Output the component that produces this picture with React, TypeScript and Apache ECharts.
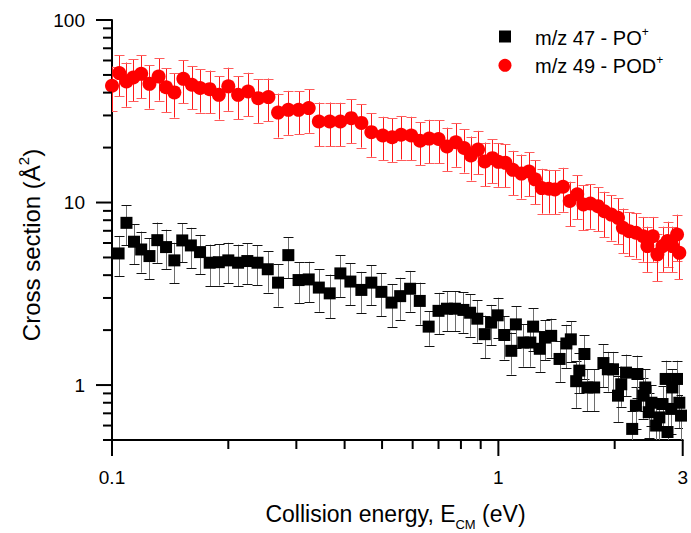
import React, { useEffect, useRef } from "react";
import * as echarts from "echarts";

// ---- data: m/z 49 - POD+ (red circles) ----
const podEnergy = [
  0.100, 0.1044, 0.109, 0.1135, 0.119, 0.125, 0.132, 0.138, 0.145, 0.153,
  0.161, 0.169, 0.179, 0.189, 0.200, 0.212, 0.225, 0.239, 0.254, 0.269,
  0.286, 0.304, 0.323, 0.343, 0.366, 0.390, 0.416, 0.442, 0.469, 0.502,
  0.531, 0.560, 0.595, 0.627, 0.662, 0.700, 0.736, 0.776, 0.815, 0.849,
  0.886, 0.922, 0.965, 1.00, 1.043, 1.09, 1.147, 1.20, 1.244, 1.295,
  1.35, 1.40, 1.47, 1.53, 1.60, 1.66, 1.73, 1.81, 1.88, 1.96,
  2.04, 2.10, 2.18, 2.27, 2.37, 2.43, 2.51, 2.58, 2.66, 2.74,
  2.82, 2.90, 2.94,
];
const podSigma = [
  43.6, 51.2, 46.0, 48.4, 50.7, 44.7, 49.0, 42.8, 40.1, 47.6,
  44.2, 42.4, 41.8, 38.9, 43.3, 38.9, 40.6, 37.3, 37.8, 31.1,
  32.2, 32.2, 32.9, 27.8, 27.8, 27.8, 29.0, 27.3, 24.3, 23.3,
  22.8, 23.5, 23.3, 21.8, 22.4, 22.3, 20.3, 21.4, 19.9, 18.1,
  19.5, 16.8, 17.5, 16.7, 16.5, 15.1, 14.4, 14.8, 13.4, 12.0,
  11.9, 11.8, 12.2, 10.2, 11.1, 9.75, 9.88, 9.55, 8.96, 8.59,
  8.24, 7.27, 6.97, 6.83, 6.54, 5.77, 6.54, 5.2, 5.77, 6.15,
  5.77, 6.68, 5.3,
];
const podError = [
  12, 13, 12.5, 12.6, 13.3, 12, 12.8, 11.5, 10.9, 12.5,
  11.8, 11.3, 11, 10.4, 11.5, 10.3, 10.8, 10, 10, 8.4,
  8.7, 8.6, 8.8, 7.5, 7.5, 7.4, 7.8, 7.3, 6.5, 6.2,
  6.1, 6.3, 6.2, 5.8, 6.0, 5.9, 5.4, 5.7, 5.3, 4.9,
  5.2, 4.5, 4.7, 4.5, 4.4, 4.1, 3.9, 4.0, 3.6, 3.3,
  3.2, 3.2, 3.3, 2.8, 3.0, 2.7, 2.7, 2.6, 2.5, 2.4,
  2.3, 2.0, 1.9, 1.9, 1.8, 1.6, 1.8, 1.5, 1.6, 1.7,
  1.6, 1.9, 1.5,
];

// ---- data: m/z 47 - PO+ (black squares) ----
const poEnergy = [
  0.104, 0.109, 0.114, 0.119, 0.125, 0.131, 0.138, 0.145, 0.152, 0.160,
  0.169, 0.179, 0.189, 0.200, 0.212, 0.224, 0.238, 0.253, 0.269, 0.286,
  0.304, 0.323, 0.343, 0.366, 0.390, 0.414, 0.442, 0.469, 0.498, 0.529,
  0.557, 0.591, 0.626, 0.660, 0.700, 0.736, 0.772, 0.812, 0.845, 0.882,
  0.922, 0.958, 0.996, 1.036, 1.08, 1.11, 1.16, 1.21, 1.23, 1.28,
  1.32, 1.37, 1.44, 1.50, 1.54, 1.59, 1.62, 1.67, 1.70, 1.77,
  1.87, 1.92, 1.98, 2.04, 2.08, 2.14, 2.22, 2.27, 2.29, 2.37,
  2.40, 2.45, 2.49, 2.56, 2.61, 2.66, 2.71, 2.74, 2.80, 2.82,
  2.90, 2.94, 2.97,
];
const poSigma = [
  5.26, 7.74, 6.10, 5.53, 5.09, 6.22, 5.70, 4.82, 6.20, 5.82,
  5.35, 4.68, 4.71, 4.82, 4.68, 4.78, 4.68, 4.31, 3.64, 5.15,
  3.76, 3.79, 3.42, 3.18, 4.09, 3.69, 3.32, 3.64, 3.24, 2.83,
  3.07, 3.37, 2.89, 2.09, 2.55, 2.62, 2.62, 2.58, 2.49, 2.31,
  1.90, 2.20, 2.41, 1.88, 1.54, 2.15, 1.71, 1.71, 2.09, 1.58,
  1.82, 1.86, 1.39, 1.69, 1.78, 1.05, 1.20, 1.48, 0.97, 0.97,
  1.32, 1.22, 1.22, 0.875, 1.01, 1.17, 0.575, 0.771, 1.15, 0.875,
  0.97, 0.71, 0.80, 0.60, 0.665, 0.787, 1.08, 0.553, 0.74, 0.97,
  1.08, 0.80, 0.68,
];
const poError = [
  1.3, 1.9, 1.5, 1.4, 1.3, 1.55, 1.4, 1.2, 1.5, 1.45,
  1.3, 1.2, 1.2, 1.2, 1.2, 1.2, 1.15, 1.1, 0.95, 1.3,
  0.95, 0.95, 0.9, 0.85, 1.05, 0.95, 0.85, 0.9, 0.85, 0.75,
  0.8, 0.85, 0.75, 0.45, 0.65, 0.65, 0.65, 0.65, 0.65, 0.6,
  0.5, 0.55, 0.6, 0.5, 0.4, 0.55, 0.45, 0.45, 0.55, 0.4,
  0.45, 0.45, 0.35, 0.45, 0.45, 0.3, 0.3, 0.4, 0.25, 0.25,
  0.35, 0.3, 0.3, 0.25, 0.25, 0.3, 0.15, 0.2, 0.3, 0.22,
  0.25, 0.2, 0.2, 0.16, 0.18, 0.2, 0.28, 0.15, 0.2, 0.25,
  0.28, 0.22, 0.2,
];

// ---- axes ----
const xRange = [0.1, 3];
const yRange = [0.5, 100];
const xMajorTicks = [0.1, 1, 3];
const xMinorTicks = [0.2, 0.3, 0.4, 0.5, 0.6, 0.7, 0.8, 0.9, 2];
const yMajorTicks = [1, 10, 100];
const yMinorTicks = [0.5, 0.6, 0.7, 0.8, 0.9, 2, 3, 4, 5, 6, 7, 8, 9, 20, 30, 40, 50, 60, 70, 80, 90];

const FONT = "'Liberation Sans', Arial, sans-serif";

function errorBarSeries(name: string, e: number[], s: number[], err: number[], lineColor: string, capColor: string) {
  return {
    name: name + " err",
    type: "custom",
    z: 1,
    clip: true,
    silent: true,
    data: e.map((v, i) => [v, s[i], err[i]]),
    encode: { x: 0, y: 1 },
    renderItem: (params: any, api: any) => {
      const x = api.value(0);
      const y = api.value(1);
      const d = api.value(2);
      const hi = api.coord([x, y + d]);
      const lo = api.coord([x, Math.max(y - d, 1e-6)]);
      const cx = Math.round(hi[0]) + 0.5;
      const w = 5;
      return {
        type: "group",
        children: [
          { type: "line", shape: { x1: cx, y1: hi[1], x2: cx, y2: lo[1] }, style: { stroke: lineColor, lineWidth: 1 } },
          { type: "line", shape: { x1: cx - w, y1: Math.round(hi[1]) + 0.5, x2: cx + w, y2: Math.round(hi[1]) + 0.5 }, style: { stroke: capColor, lineWidth: 1 } },
          { type: "line", shape: { x1: cx - w, y1: Math.round(lo[1]) + 0.5, x2: cx + w, y2: Math.round(lo[1]) + 0.5 }, style: { stroke: capColor, lineWidth: 1 } },
        ],
      };
    },
  };
}

function tickSeries(name: string, data: number[][], horizontal: boolean) {
  return {
    name,
    type: "custom",
    z: 5,
    clip: false,
    silent: true,
    data,
    encode: { x: 0, y: 1 },
    renderItem: (params: any, api: any) => {
      const p = api.coord([api.value(0), api.value(1)]);
      const len = api.value(2);
      const shape = horizontal
        ? { x1: p[0] - len, y1: p[1], x2: p[0], y2: p[1] }
        : { x1: p[0], y1: p[1], x2: p[0], y2: p[1] + len };
      return { type: "line", shape, style: { stroke: "#000", lineWidth: 2 } };
    },
  };
}

export default function App() {
  const ref = useRef<HTMLDivElement>(null);
  useEffect(() => {
    if (!ref.current) return;
    const chart = echarts.init(ref.current, undefined, { renderer: "svg" });
    const fmt = (v: number) => String(Number(Number(v).toPrecision(3)));
    chart.setOption({
      animation: false,
      backgroundColor: "#fff",
      grid: { left: 112, right: 6, top: 20, bottom: 93 },
      xAxis: {
        type: "log",
        logBase: 10,
        min: xRange[0],
        max: xRange[1],
        axisLine: { show: true, lineStyle: { color: "#000", width: 2 } },
        axisTick: { show: false },
        minorTick: { show: false },
        splitLine: { show: false },
        axisLabel: { color: "#000", fontSize: 19, fontFamily: FONT, margin: 28, showMinLabel: true, showMaxLabel: true, formatter: fmt },
      },
      yAxis: {
        type: "log",
        logBase: 10,
        min: yRange[0],
        max: yRange[1],
        axisLine: { show: true, lineStyle: { color: "#000", width: 2 } },
        axisTick: { show: false },
        minorTick: { show: false },
        splitLine: { show: false },
        axisLabel: { color: "#000", fontSize: 19, fontFamily: FONT, margin: 27, showMinLabel: false, showMaxLabel: true, formatter: fmt },
      },
      series: [
        errorBarSeries("PO+", poEnergy, poSigma, poError, "#6e6e6e", "#111"),
        errorBarSeries("POD+", podEnergy, podSigma, podError, "#ff1a1a", "#ff5c5c"),
        {
          name: "m/z 47 - PO+",
          type: "scatter",
          symbol: "rect",
          symbolSize: 12,
          z: 3,
          itemStyle: { color: "#000", opacity: 1 },
          data: poEnergy.map((v, i) => [v, poSigma[i]]),
        },
        {
          name: "m/z 49 - POD+",
          type: "scatter",
          symbol: "circle",
          symbolSize: 14,
          z: 3,
          itemStyle: { color: "#ff0000", opacity: 1 },
          data: podEnergy.map((v, i) => [v, podSigma[i]]),
        },
        tickSeries("xMajor", xMajorTicks.map((v) => [v, yRange[0], 16]), false),
        tickSeries("xMinor", xMinorTicks.map((v) => [v, yRange[0], 9]), false),
        tickSeries("yMajor", yMajorTicks.map((v) => [xRange[0], v, 16]), true),
        tickSeries("yMinor", yMinorTicks.map((v) => [xRange[0], v, 9]), true),
      ],
      graphic: [
        {
          type: "text",
          x: 395.5,
          y: 502,
          style: {
            text: "{a|Collision energy, E}{b|CM}{a| (eV)}",
            align: "center",
            verticalAlign: "top",
            fill: "#000",
            rich: {
              a: { fontSize: 23, lineHeight: 26, fontFamily: FONT, verticalAlign: "top", fill: "#000" },
              b: { fontSize: 13, lineHeight: 13, fontFamily: FONT, verticalAlign: "top", padding: [16, 0, 0, 0], fill: "#000" },
            },
          },
        },
        {
          type: "text",
          x: 29.5,
          y: 245,
          rotation: Math.PI / 2,
          style: {
            text: "{a|Cross section (Å}{s|2}{a|)}",
            align: "center",
            verticalAlign: "middle",
            fill: "#000",
            rich: {
              a: { fontSize: 24, lineHeight: 27, fontFamily: FONT, verticalAlign: "bottom", fill: "#000" },
              s: { fontSize: 15, lineHeight: 15, fontFamily: FONT, verticalAlign: "top", padding: [0, 0, 23, 0], fill: "#000" },
            },
          },
        },
        { type: "rect", shape: { x: 499, y: 30.5, width: 12, height: 12 }, style: { fill: "#000" } },
        { type: "circle", shape: { cx: 505, cy: 65.3, r: 6.5 }, style: { fill: "#ff0000" } },
        {
          type: "text",
          x: 535,
          y: 36.5,
          style: {
            text: "{a|m/z 47 - PO}{s|+}",
            align: "left",
            verticalAlign: "middle",
            rich: {
              a: { fontSize: 20, lineHeight: 22, fontFamily: FONT, verticalAlign: "bottom", fill: "#000" },
              s: { fontSize: 12, lineHeight: 12, fontFamily: FONT, verticalAlign: "top", fill: "#000" },
            },
          },
        },
        {
          type: "text",
          x: 535,
          y: 65.3,
          style: {
            text: "{a|m/z 49 - POD}{s|+}",
            align: "left",
            verticalAlign: "middle",
            rich: {
              a: { fontSize: 20, lineHeight: 22, fontFamily: FONT, verticalAlign: "bottom", fill: "#000" },
              s: { fontSize: 12, lineHeight: 12, fontFamily: FONT, verticalAlign: "top", fill: "#000" },
            },
          },
        },
      ],
    });
    return () => chart.dispose();
  }, []);
  return (
    <div
      ref={ref}
      style={{ position: "absolute", left: 0, top: 0, width: 691, height: 533, background: "#fff" }}
    />
  );
}
